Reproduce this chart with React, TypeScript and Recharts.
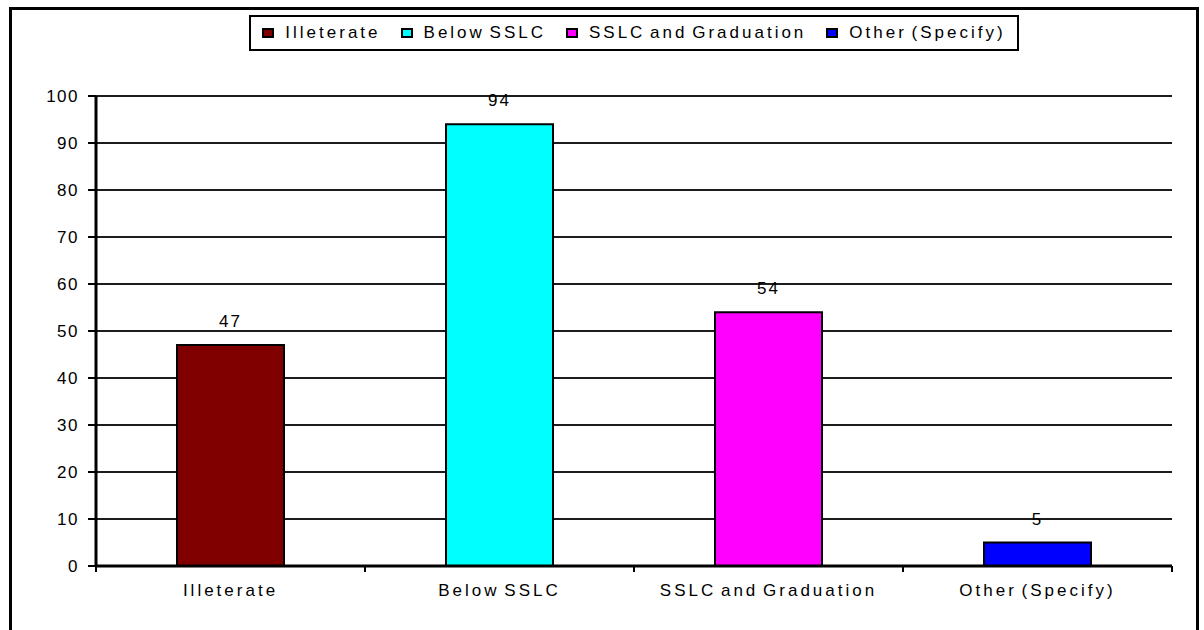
import { Bar, BarChart, CartesianGrid, Cell, LabelList, Legend, XAxis, YAxis } from 'recharts';

// Respondents by education level
const categories = ['Illeterate', 'Below SSLC', 'SSLC and Graduation', 'Other (Specify)'];
const counts = [47, 94, 54, 5];
const barColors = ['#800000', '#00FFFF', '#FF00FF', '#0000FF'];
const yTicks = [0, 10, 20, 30, 40, 50, 60, 70, 80, 90, 100];

const data = categories.map((name, i) => ({ name, value: counts[i] }));

const W = 1204;
const H = 630;
const MARGIN = { top: 96, right: 32, left: 0, bottom: 24 };
const Y_AXIS_W = 96;
const X_AXIS_H = 40;
const PLOT_W = W - MARGIN.left - MARGIN.right - Y_AXIS_W;
const BAND = PLOT_W / categories.length;

const FONT = "'Liberation Sans', Arial, Helvetica, sans-serif";
const FONT_SIZE = 17;

function CategoryTick(props: any) {
  const { x, y, payload, index } = props;
  const half = BAND / 2;
  return (
    <g>
      <line x1={x - half} x2={x - half} y1={y} y2={y + 6} stroke="#000" strokeWidth={2} />
      {index === categories.length - 1 && (
        <line x1={x + half} x2={x + half} y1={y} y2={y + 6} stroke="#000" strokeWidth={2} />
      )}
      <text
        x={x}
        y={y + 18}
        dy="0.71em"
        textAnchor="middle"
        fill="#000"
        fontSize={FONT_SIZE}
        fontFamily={FONT}
        style={{ letterSpacing: 3, wordSpacing: -3 }}
      >
        {payload.value}
      </text>
    </g>
  );
}

function ValueTick(props: any) {
  const { x, y, payload } = props;
  return (
    <text
      x={x}
      y={y}
      dy="0.355em"
      textAnchor="end"
      fill="#000"
      fontSize={FONT_SIZE}
      fontFamily={FONT}
      style={{ letterSpacing: 1.5 }}
    >
      {payload.value}
    </text>
  );
}

function BarValue(props: any) {
  const { x, y, width, value } = props;
  return (
    <text
      x={Number(x) + Number(width) / 2}
      y={Number(y) - 18}
      textAnchor="middle"
      fill="#000"
      fontSize={FONT_SIZE}
      fontFamily={FONT}
      style={{ letterSpacing: 2 }}
    >
      {value}
    </text>
  );
}

function LegendBox() {
  return (
    <div style={{ textAlign: 'center' }}>
      <div
        style={{
          display: 'inline-flex',
          alignItems: 'center',
          boxSizing: 'border-box',
          height: 36,
          padding: '0 11px',
          border: '2px solid #000',
          background: '#fff',
          fontFamily: FONT,
          fontSize: FONT_SIZE,
          color: '#000',
        }}
      >
        {categories.map((name, i) => (
          <div
            key={name}
            style={{ display: 'flex', alignItems: 'center', marginRight: i < categories.length - 1 ? 20 : 0 }}
          >
            <span
              style={{
                display: 'inline-block',
                boxSizing: 'border-box',
                width: 12,
                height: 10,
                border: '2px solid #000',
                background: barColors[i],
                marginRight: 11,
              }}
            />
            <span style={{ letterSpacing: 3, wordSpacing: -3, whiteSpace: 'nowrap' }}>{name}</span>
          </div>
        ))}
      </div>
    </div>
  );
}

export default function App() {
  return (
    <div style={{ position: 'absolute', left: 0, top: 0, width: W, height: H, overflow: 'hidden', background: '#fff' }}>
      <div
        style={{
          position: 'absolute',
          left: 9,
          top: 7,
          width: 1190,
          height: 640,
          boxSizing: 'border-box',
          border: '3px solid #000',
        }}
      />
      <div style={{ position: 'absolute', left: 0, top: 0 }}>
        <BarChart width={W} height={H} data={data} margin={MARGIN}>
          <CartesianGrid vertical={false} stroke="#1c1c1c" strokeWidth={2} />
          <XAxis
            dataKey="name"
            height={X_AXIS_H}
            tickLine={false}
            tickSize={0}
            tickMargin={0}
            interval={0}
            axisLine={{ stroke: '#000', strokeWidth: 3 }}
            tick={<CategoryTick />}
          />
          <YAxis
            width={Y_AXIS_W}
            domain={[0, 100]}
            ticks={yTicks}
            interval={0}
            tickSize={8}
            tickMargin={9}
            tickLine={{ stroke: '#000', strokeWidth: 2 }}
            axisLine={{ stroke: '#000', strokeWidth: 3 }}
            tick={<ValueTick />}
          />
          <YAxis
            yAxisId="frame"
            orientation="right"
            width={0}
            domain={[0, 100]}
            tick={false}
            tickLine={false}
            axisLine={{ stroke: '#000', strokeWidth: 3 }}
          />
          <Legend
            layout="horizontal"
            verticalAlign="middle"
            align="center"
            wrapperStyle={{ left: MARGIN.left + Y_AXIS_W, top: 15, width: PLOT_W }}
            content={<LegendBox />}
          />
          <Bar dataKey="value" barSize={107} stroke="#000" strokeWidth={2} isAnimationActive={false}>
            {data.map((d, i) => (
              <Cell key={d.name} fill={barColors[i]} />
            ))}
            <LabelList dataKey="value" content={<BarValue />} />
          </Bar>
        </BarChart>
      </div>
    </div>
  );
}
